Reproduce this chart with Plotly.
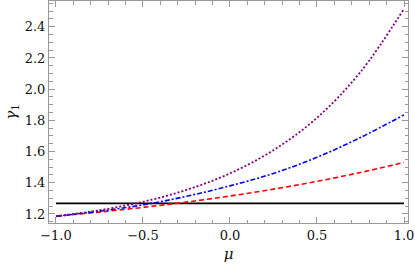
import plotly.graph_objects as go

mu = [-1.0, -0.75, -0.5, -0.25, 0.0, 0.25, 0.5, 0.75, 1.0]
gamma_red = [1.185, 1.212, 1.242, 1.276, 1.315, 1.359, 1.409, 1.466, 1.53]
gamma_blue = [1.185, 1.218, 1.258, 1.313, 1.38, 1.46, 1.563, 1.69, 1.835]
gamma_purple = [1.185, 1.224, 1.278, 1.354, 1.46, 1.609, 1.816, 2.11, 2.515]
gamma_black = [1.268] * len(mu)

x_ticks = [-1.0, -0.5, 0.0, 0.5, 1.0]
x_ticklabels = ["\u22121.0", "\u22120.5", "0.0", "0.5", "1.0"]
y_ticks = [1.2, 1.4, 1.6, 1.8, 2.0, 2.2, 2.4]
y_ticklabels = ["1.2", "1.4", "1.6", "1.8", "2.0", "2.2", "2.4"]

SERIF = "DejaVu Serif"

fig = go.Figure()
fig.add_trace(go.Scatter(x=mu, y=gamma_black, mode="lines",
                         line=dict(color="black", width=1.6)))
fig.add_trace(go.Scatter(x=mu, y=gamma_red, mode="lines", line_shape="spline",
                         line=dict(color="#ff0000", width=1.6, dash="5px,3px")))
fig.add_trace(go.Scatter(x=mu, y=gamma_blue, mode="lines", line_shape="spline",
                         line=dict(color="#0000ff", width=1.6, dash="5px,2px,2px,2px")))
fig.add_trace(go.Scatter(x=mu, y=gamma_purple, mode="lines", line_shape="spline",
                         line=dict(color="#800080", width=1.8, dash="2px,2px")))

axis_common = dict(
    showgrid=False, zeroline=False, showline=True, linecolor="#999999", linewidth=1,
    mirror="ticks", ticks="inside", ticklen=6, tickcolor="#999999", tickwidth=1,
    tickfont=dict(family=SERIF, size=13, color="#111111"),
)

fig.update_layout(
    width=415, height=270,
    margin=dict(l=49, r=7, t=1, b=47),
    paper_bgcolor="white", plot_bgcolor="white",
    showlegend=False,
    font=dict(family=SERIF),
    xaxis=dict(range=[-1.04, 1.023], tickvals=x_ticks, ticktext=x_ticklabels,
               minor=dict(ticks="inside", ticklen=3.5, dtick=0.1, tick0=0,
                          tickcolor="#999999"),
               title=dict(text="<i>\u03bc</i>", standoff=6,
                          font=dict(family=SERIF, size=15, color="#111111")),
               **axis_common),
    yaxis=dict(range=[1.142, 2.565], tickvals=y_ticks, ticktext=y_ticklabels,
               minor=dict(ticks="inside", ticklen=3.5, dtick=0.05, tick0=0,
                          tickcolor="#999999"),
               title=dict(text="<i>\u03b3</i><sub>1</sub>", standoff=4,
                          font=dict(family=SERIF, size=15, color="#111111")),
               **axis_common),
)

fig.write_html("out.html", config={"displayModeBar": False},
               post_script="document.body.style.margin='0';document.body.style.overflow='hidden';")
